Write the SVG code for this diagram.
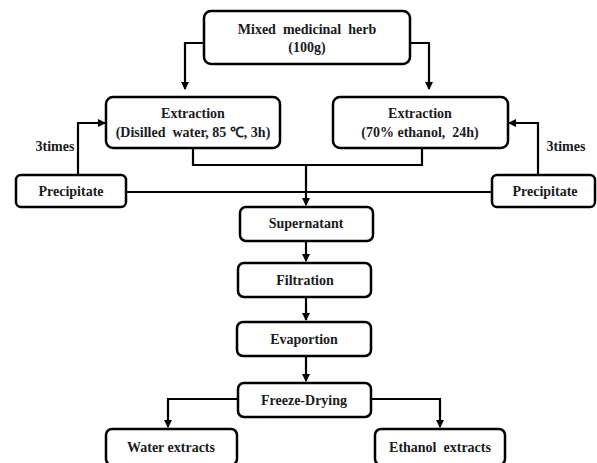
<svg xmlns="http://www.w3.org/2000/svg" width="597" height="463" viewBox="0 0 597 463">
<defs>
<marker id="ah" markerWidth="8" markerHeight="8" refX="7" refY="4" orient="auto" markerUnits="userSpaceOnUse">
<path d="M0,0 L8,4 L0,8 Z" fill="#000"/>
</marker>
<style>
.box{fill:#fff;stroke:#000;stroke-width:2.5}
.t{font-family:"Liberation Serif","Times New Roman",serif;font-weight:bold;font-size:14px;fill:#1a1a22;text-anchor:middle;white-space:pre}
.c{fill:none;stroke:#000;stroke-width:2.2}
.a{fill:none;stroke:#000;stroke-width:2.2;marker-end:url(#ah)}
</style>
</defs>
<rect width="597" height="463" fill="#fff"/>
<g id="connectors">
<path class="a" d="M204,43 H185 V89"/>
<path class="a" d="M410,43 H429 V89"/>
<path class="c" d="M193,149 V165 H422 V149"/>
<path class="a" d="M306,165 V205"/>
<path class="c" d="M126,192 H492"/>
<path class="a" d="M78,175 V123 H105"/>
<path class="a" d="M538,175 V123 H509"/>
<path class="a" d="M306,241 V261"/>
<path class="a" d="M306,297 V320"/>
<path class="a" d="M306,356 V381"/>
<path class="a" d="M238,399 H168 V427"/>
<path class="a" d="M371,399 H440 V427"/>
<text class="t" x="55" y="151">3times</text>
<text class="t" x="566" y="151">3times</text>
</g>
<g id="herb"><rect class="box" x="204" y="11" width="206" height="53" rx="7"/>
<text class="t" x="307" y="34">Mixed  medicinal  herb</text><text class="t" x="307" y="52">(100g)</text></g>
<g id="extraction-water"><rect class="box" x="106" y="97" width="174" height="51" rx="7"/>
<text class="t" x="193" y="118">Extraction</text><text class="t" x="193" y="137">(Disilled  water, 85 ℃, 3h)</text></g>
<g id="extraction-ethanol"><rect class="box" x="333" y="97" width="175" height="51" rx="7"/>
<text class="t" x="420" y="118">Extraction</text><text class="t" x="420" y="137">(70% ethanol,  24h)</text></g>
<g id="precipitate-left"><rect class="box" x="16" y="175" width="110" height="32" rx="5"/>
<text class="t" x="71" y="196">Precipitate</text></g>
<g id="precipitate-right"><rect class="box" x="492" y="175" width="103" height="32" rx="5"/>
<text class="t" x="545" y="196">Precipitate</text></g>
<g id="supernatant"><rect class="box" x="240" y="207" width="133" height="34" rx="6"/>
<text class="t" x="306" y="228">Supernatant</text></g>
<g id="filtration"><rect class="box" x="238" y="263" width="133" height="34" rx="6"/>
<text class="t" x="305" y="285">Filtration</text></g>
<g id="evaporation"><rect class="box" x="237" y="322" width="134" height="34" rx="6"/>
<text class="t" x="304" y="344">Evaportion</text></g>
<g id="freeze-drying"><rect class="box" x="238" y="383" width="133" height="34" rx="6"/>
<text class="t" x="304" y="405">Freeze-Drying</text></g>
<g id="water-extracts"><rect class="box" x="106" y="429" width="131" height="36" rx="6"/>
<text class="t" x="171" y="452">Water extracts</text></g>
<g id="ethanol-extracts"><rect class="box" x="375" y="429" width="130" height="36" rx="6"/>
<text class="t" x="440" y="452">Ethanol  extracts</text></g>
</svg>
